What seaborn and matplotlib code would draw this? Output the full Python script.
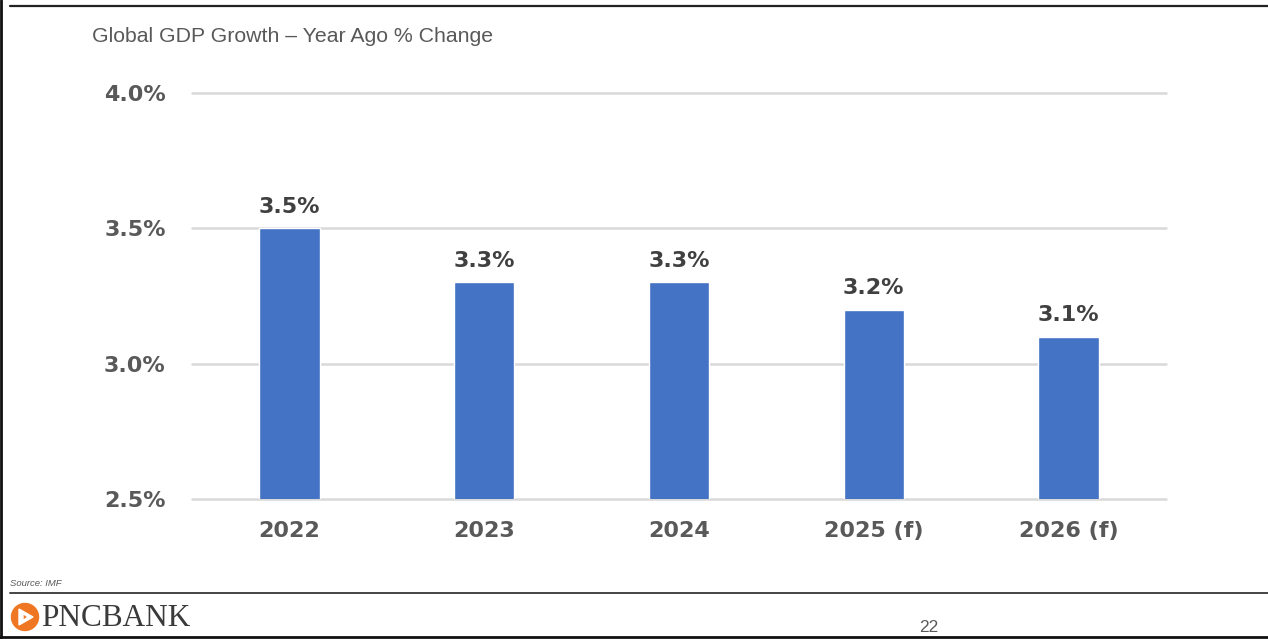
import matplotlib
matplotlib.use("Agg")
import matplotlib.pyplot as plt
import matplotlib.patches as mpatches
from matplotlib.lines import Line2D
import seaborn as sns
import pandas as pd

years = ["2022", "2023", "2024", "2025 (f)", "2026 (f)"]
growth = [3.5, 3.3, 3.3, 3.2, 3.1]
y_ticks = [2.5, 3.0, 3.5, 4.0]

BAR_COLOR = "#4472C4"
GRID_COLOR = "#D9D9D9"
TICK_COLOR = "#595959"

sns.set_theme(style="white")
plt.rcParams["font.family"] = ["DejaVu Sans"]

W, H = 1268, 639
fig = plt.figure(figsize=(W / 100, H / 100), dpi=100)
fig.patch.set_facecolor("white")

ax = fig.add_axes([192 / W, 1 - 499 / H, (1166 - 192) / W, (499 - 93) / H])
df = pd.DataFrame({"year": years, "growth": growth})
sns.barplot(data=df, x="year", y="growth", color=BAR_COLOR, width=0.31,
            saturation=1, ax=ax, zorder=3)

ax.set_ylim(2.5, 4.0)
ax.set_xlim(-0.5, len(years) - 0.5)
ax.set_yticks(y_ticks)
ax.set_yticklabels([f"{t:.1f}%" for t in y_ticks])
ax.yaxis.grid(True, color=GRID_COLOR, linewidth=1.8, zorder=0)
for gl in ax.get_ygridlines():
    gl.set_clip_on(False)
ax.set_axisbelow(True)
ax.set_xlabel("")
ax.set_ylabel("")
for s in ax.spines.values():
    s.set_visible(False)
ax.tick_params(axis="y", length=0, pad=19, labelsize=16, labelcolor=TICK_COLOR)
ax.tick_params(axis="x", length=0, pad=16, labelsize=16, labelcolor=TICK_COLOR)
for lab in ax.get_xticklabels() + ax.get_yticklabels():
    lab.set_fontweight("bold")

for i, v in enumerate(growth):
    ax.annotate(f"{v:.1f}%", (i, v), xytext=(0, 8), textcoords="offset points",
                ha="center", va="bottom", fontsize=16, fontweight="bold",
                color="#404040")

# slide furniture
fig.text(92 / W, 1 - 36 / H, "Global GDP Growth – Year Ago % Change",
         family="Liberation Sans", fontsize=15.3, color="#595959",
         ha="left", va="center")
fig.text(10 / W, 1 - 583 / H, "Source: IMF", family="Liberation Sans",
         style="italic", fontsize=6.8, color="#595959", ha="left", va="center")
fig.text(929 / W, 1 - 628 / H, "22", family="Liberation Sans", fontsize=12.5,
         color="#595959", ha="center", va="center")

fig.add_artist(Line2D([10 / W, 1], [1 - 6 / H, 1 - 6 / H], color="#222222", lw=1.6))
fig.add_artist(Line2D([10 / W, 1], [1 - 593 / H, 1 - 593 / H], color="#444444", lw=1.4))
fig.add_artist(Line2D([0, 1], [1 - 637 / H, 1 - 637 / H], color="#111111", lw=2))
fig.add_artist(Line2D([1 / W, 1 / W], [0, 1], color="#111111", lw=2))

# PNC logo
cx, cy, r = 25, 617, 13.5
fig.add_artist(mpatches.Ellipse((cx / W, 1 - cy / H), 2 * r / W, 2 * r / H,
                                color="#EF7622", transform=fig.transFigure))
tri = mpatches.Polygon([((cx - 6) / W, 1 - (cy - 8) / H),
                        ((cx + 8) / W, 1 - cy / H),
                        ((cx - 6) / W, 1 - (cy + 8) / H)],
                       closed=True, facecolor="white", transform=fig.transFigure)
fig.add_artist(tri)
tri2 = mpatches.Polygon([((cx - 2) / W, 1 - (cy - 3.5) / H),
                         ((cx + 3) / W, 1 - cy / H),
                         ((cx - 2) / W, 1 - (cy + 3.5) / H)],
                        closed=True, facecolor="#EF7622", transform=fig.transFigure)
fig.add_artist(tri2)
fig.text(41 / W, 1 - 618 / H, "PNCBANK", family="Liberation Serif",
         fontsize=22.5, color="#3A3A3A", ha="left", va="center")

fig.savefig("out.png", dpi=100, facecolor="white")
